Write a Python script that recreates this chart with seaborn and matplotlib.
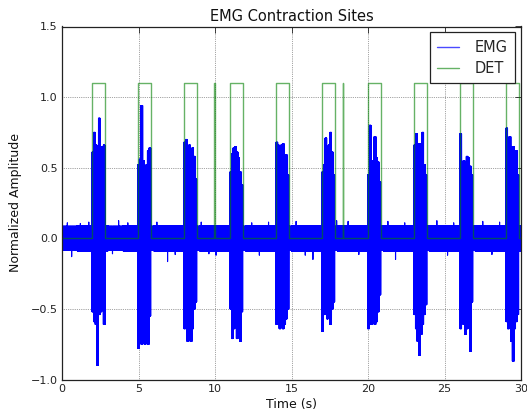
import numpy as np
import matplotlib
matplotlib.use("Agg")
import matplotlib.pyplot as plt
import seaborn as sns

# ---------------- data ----------------
t_start, t_end = 0.0, 30.0
dt = 0.002

# detection (DET) intervals, seconds
det_on = [1.96, 4.95, 7.97, 9.95, 10.98, 13.99, 16.99, 18.36, 19.98, 23.00, 26.01, 29.02]
det_off = [2.81, 5.80, 8.80, 9.97, 11.81, 14.82, 17.82, 18.39, 20.83, 23.84, 26.84, 29.85]
det_level = 1.1

# EMG bursts (onset / offset, seconds)
burst_on = [1.96, 4.95, 7.97, 10.98, 13.99, 16.99, 19.98, 23.00, 26.01, 29.02]
burst_off = [2.81, 5.80, 8.80, 11.81, 14.82, 17.82, 20.83, 23.84, 26.84, 29.85]

# positive peak envelope of each burst (8 consecutive slices)
burst_up = [
    [0.61, 0.75, 0.66, 0.58, 0.85, 0.64, 0.65, 0.66],
    [0.52, 0.56, 0.94, 0.55, 0.50, 0.52, 0.62, 0.64],
    [0.68, 0.70, 0.64, 0.66, 0.62, 0.64, 0.58, 0.42],
    [0.47, 0.60, 0.64, 0.65, 0.61, 0.57, 0.47, 0.38],
    [0.68, 0.66, 0.52, 0.66, 0.67, 0.50, 0.59, 0.45],
    [0.47, 0.52, 0.71, 0.57, 0.66, 0.75, 0.61, 0.45],
    [0.45, 0.80, 0.54, 0.55, 0.72, 0.57, 0.54, 0.40],
    [0.66, 0.74, 0.59, 0.67, 0.54, 0.75, 0.52, 0.45],
    [0.74, 0.52, 0.55, 0.54, 0.58, 0.57, 0.51, 0.45],
    [0.78, 0.68, 0.72, 0.59, 0.65, 0.61, 0.62, 0.45],
]
# negative peak envelope of each burst (8 consecutive slices)
burst_lo = [
    [-0.52, -0.59, -0.61, -0.90, -0.54, -0.52, -0.50, -0.61],
    [-0.78, -0.64, -0.75, -0.62, -0.75, -0.62, -0.75, -0.55],
    [-0.64, -0.62, -0.73, -0.60, -0.73, -0.64, -0.50, -0.45],
    [-0.50, -0.71, -0.64, -0.59, -0.71, -0.61, -0.73, -0.52],
    [-0.61, -0.57, -0.64, -0.54, -0.64, -0.61, -0.57, -0.50],
    [-0.66, -0.54, -0.52, -0.57, -0.52, -0.61, -0.50, -0.45],
    [-0.64, -0.54, -0.61, -0.57, -0.61, -0.59, -0.52, -0.40],
    [-0.54, -0.64, -0.73, -0.83, -0.68, -0.61, -0.54, -0.47],
    [-0.64, -0.54, -0.61, -0.68, -0.64, -0.54, -0.80, -0.45],
    [-0.59, -0.64, -0.61, -0.73, -0.87, -0.64, -0.59, -0.54],
]

# resting (baseline) noise envelope, one value per second
base_up = [0.085, 0.09, 0.09, 0.085, 0.09, 0.085, 0.09, 0.09, 0.085, 0.09,
           0.09, 0.085, 0.09, 0.09, 0.085, 0.09, 0.09, 0.085, 0.09, 0.09,
           0.085, 0.09, 0.09, 0.085, 0.09, 0.09, 0.085, 0.09, 0.09, 0.09]
base_lo = [-0.085, -0.09, -0.09, -0.085, -0.09, -0.085, -0.09, -0.09, -0.085, -0.09,
           -0.09, -0.085, -0.09, -0.09, -0.085, -0.09, -0.09, -0.085, -0.09, -0.09,
           -0.085, -0.09, -0.09, -0.085, -0.09, -0.09, -0.085, -0.09, -0.09, -0.09]

# isolated baseline spikes (time s, amplitude)
spike_t = [0.35, 0.63, 1.2, 1.75, 3.3, 3.7, 4.3, 6.2, 6.9, 7.4, 9.1, 9.6, 10.07,
           12.4, 12.9, 13.5, 15.3, 15.9, 16.4, 17.95, 18.7, 19.4, 21.3, 21.8,
           22.4, 24.5, 25.2, 25.6, 27.5, 28.1, 28.6]
spike_v = [0.11, -0.13, 0.105, 0.115, -0.11, 0.125, 0.11, 0.115, -0.165, -0.115,
           0.115, -0.11, -0.12, 0.11, -0.12, 0.115, 0.12, -0.12, -0.15, 0.125,
           0.12, -0.115, 0.12, -0.15, 0.11, 0.125, -0.12, 0.11, 0.12, -0.115, 0.115]

# ---------------- build series ----------------
t = np.arange(t_start, t_end + dt / 2, dt)
sec = np.minimum((t // 1).astype(int), len(base_up) - 1)
up = np.array(base_up)[sec]
lo = np.array(base_lo)[sec]
for k in range(len(burst_on)):
    n = len(burst_up[k])
    m = (t >= burst_on[k]) & (t < burst_off[k])
    seg = np.minimum(((t[m] - burst_on[k]) / (burst_off[k] - burst_on[k]) * n).astype(int), n - 1)
    up[m] = np.array(burst_up[k])[seg]
    lo[m] = np.array(burst_lo[k])[seg]
emg = np.where(np.arange(len(t)) % 2 == 0, up, lo)
for ts, v in zip(spike_t, spike_v):
    emg[int(round(ts / dt))] = v

det_x = [t_start]
det_y = [0.0]
for a, b in zip(det_on, det_off):
    det_x += [a, a, b, b]
    det_y += [0.0, det_level, det_level, 0.0]
det_x.append(t_end)
det_y.append(0.0)

# ---------------- plot ----------------
sns.set_style("white")
plt.rcParams["font.family"] = ["DejaVu Sans"]
plt.rcParams["axes.unicode_minus"] = True

fig = plt.figure(figsize=(5.27, 4.12), dpi=100)
ax = fig.add_axes([62 / 527, 1 - 379.5 / 412, (521 - 62) / 527, (379.5 - 26.5) / 412])

sns.lineplot(x=t, y=emg, ax=ax, color="#0000ff", lw=0.8, estimator=None,
             sort=False, label="EMG")
sns.lineplot(x=det_x, y=det_y, ax=ax, color="#008000", lw=1.0, alpha=0.6,
             estimator=None, sort=False, label="DET")

ax.set_xlim(0, 30)
ax.set_ylim(-1.0, 1.5)
ax.set_xticks([0, 5, 10, 15, 20, 25, 30])
ax.set_yticks([-1.0, -0.5, 0.0, 0.5, 1.0, 1.5])
ax.set_yticklabels(["\u22121.0", "\u22120.5", "0.0", "0.5", "1.0", "1.5"])
ax.grid(True, color="k", linestyle=":", linewidth=0.5, alpha=0.7)
ax.tick_params(direction="in", length=4, width=0.6, top=True, right=True,
               labelsize=8, colors="#222222", pad=3)
for s in ax.spines.values():
    s.set_color("#222222")
    s.set_linewidth(0.9)

ax.set_title("EMG Contraction Sites", fontsize=10.5, color="#111111", pad=4)
ax.set_xlabel("Time (s)", fontsize=9, color="#111111", labelpad=3)
ax.set_ylabel("Normalized Amplitude", fontsize=9, color="#111111", labelpad=6)

leg = ax.legend(loc="upper right", fontsize=10.5, fancybox=False, framealpha=1,
                edgecolor="#222222", handlelength=1.5, handletextpad=1.1,
                borderpad=0.5, labelspacing=0.45, borderaxespad=0.4)
leg.get_frame().set_linewidth(0.9)
handles = leg.legend_handles if hasattr(leg, "legend_handles") else leg.legendHandles
handles[0].set_color("#4a4aff")
handles[0].set_alpha(1.0)
handles[0].set_linewidth(1.0)
handles[1].set_alpha(0.6)

fig.savefig("out.png", dpi=100)
